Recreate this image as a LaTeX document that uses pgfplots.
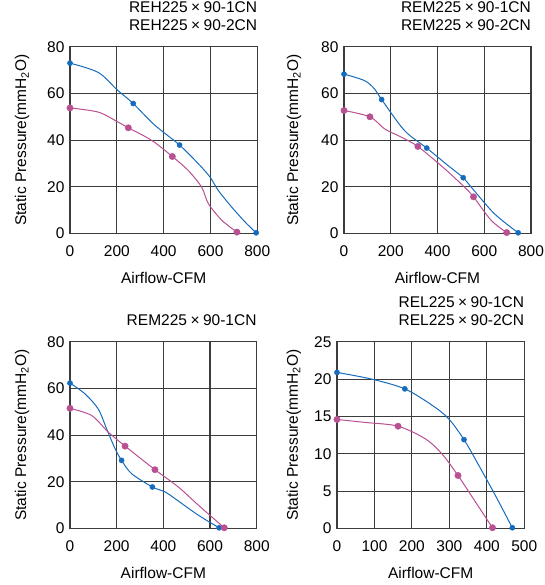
\documentclass[border=0pt]{standalone}
\usepackage{fontspec}
\setmainfont{Liberation Sans}
\usepackage{pgfplots}
\pgfplotsset{compat=1.18}
\definecolor{cblue}{RGB}{22,108,188}
\definecolor{cmag}{RGB}{184,80,146}
\definecolor{cgrid}{RGB}{60,60,60}
\newcommand{\fs}{\fontsize{15.5bp}{18bp}\selectfont}
\newcommand{\X}{\hspace{3.5bp}×\hspace{3.5bp}}
\pgfplotsset{
  panel/.style={
    scale only axis, width=187bp, height=186.7bp,
    /pgf/number format/assume math mode=true,
    xmin=0, xmax=800, ymin=0, ymax=80,
    xtick={0,200,...,800}, ytick={0,20,...,80},
    grid=major, major grid style={cgrid, line width=1.05bp},
    axis line style={cgrid, line width=1.05bp},
    tick style={draw=none},
    ticklabel style={font=\fs},
    xticklabel style={yshift=-9bp},
    yticklabel style={xshift=-2bp},
    xlabel={Airflow-CFM},
    ylabel={Static Pressure(mmH\textsubscript{2}O)},
    label style={font=\fs},
    xlabel style={at={(axis description cs:0.5,-0.24)}, anchor=center},
    title style={font=\fs, at={(axis description cs:1,1)}, anchor=south east, align=right, inner sep=0pt, yshift=10bp},
    clip=false,
  },
  bline/.style={cblue, line width=1bp, smooth, no marks},
  mline/.style={cmag, line width=1bp, smooth, no marks},
  bmark/.style={only marks, mark=*, mark size=2.6bp, cblue, mark options={draw=cblue, fill=cblue}},
  mmark/.style={only marks, mark=*, mark size=3.2bp, cmag, mark options={draw=cmag, fill=cmag}},
}
\begin{document}
\begin{tikzpicture}[x=1bp,y=1bp]
\useasboundingbox (0,0) rectangle (545,585);
% Panel 1
\begin{axis}[panel, at={(70bp,351.5bp)}, anchor=south west, width=187.3bp,
  ylabel style={at={(axis description cs:-0.255,0.5)}, anchor=center},
  title={REH225\X90-1CN\\REH225\X90-2CN}]
\addplot[bline] coordinates {(0,73.0) (121,69.0) (202,61.5) (270,55.7) (360,46.6) (468,37.9) (548,29.9) (598,24.2) (633,18.5) (690,11.4) (747,5) (795,0.3)};
\addplot[mline] coordinates {(0,53.8) (121,52.0) (206,47.7) (249,45.3) (349,39.9) (437,33.0) (505,27.0) (562,19.9) (591,12.8) (648,5.7) (713,0.6)};
\addplot[bmark] coordinates {(0,73.0) (270,55.7) (468,37.9) (795,0.3)};
\addplot[mmark] coordinates {(0,53.8) (249,45.3) (437,33.0) (713,0.6)};
\end{axis}
% Panel 2
\begin{axis}[panel, at={(344bp,351.5bp)}, anchor=south west,
  ylabel style={at={(axis description cs:-0.267,0.5)}, anchor=center},
  title={REM225\X90-1CN\\REM225\X90-2CN}]
\addplot[bline] coordinates {(0,68.3) (88,65.5) (131,61.9) (161,57.4) (259,44.1) (354,36.6) (444,29.2) (510,23.9) (544,19.9) (643,8.5) (745,0.3)};
\addplot[mline] coordinates {(0,52.7) (111,50.0) (174,44.8) (245,41.3) (316,37.3) (430,27.8) (515,19.9) (554,15.7) (629,5.7) (696,0.4)};
\addplot[bmark] coordinates {(0,68.3) (161,57.4) (354,36.6) (510,23.9) (745,0.3)};
\addplot[mmark] coordinates {(0,52.7) (111,50.0) (316,37.3) (554,15.7) (696,0.4)};
\end{axis}
% Panel 3
\begin{axis}[panel, at={(70bp,56.5bp)}, anchor=south west, width=186.7bp,
  ylabel style={at={(axis description cs:-0.257,0.5)}, anchor=center},
  title={REM225\X90-1CN}]
\addplot[bline] coordinates {(0,62.3) (64,57.7) (121,51.2) (157,42.7) (193,34.2) (221,29.2) (264,23.5) (353,17.8) (407,15.7) (450,12.8) (550,5.7) (639,0.3)};
\addplot[mline] coordinates {(0,51.5) (93,48.4) (164,41.3) (236,35.3) (364,25.2) (464,17.8) (550,10.0) (661,0.3)};
\addplot[bmark] coordinates {(0,62.3) (221,29.2) (353,17.8) (639,0.3)};
\addplot[mmark] coordinates {(0,51.5) (236,35.3) (364,25.2) (661,0.3)};
\end{axis}
% Panel 4
\begin{axis}[panel, at={(337bp,56.5bp)}, anchor=south west, width=187.3bp,
  xmax=500, ymax=25, xtick={0,100,...,500}, ytick={0,5,...,25},
  ylabel style={at={(axis description cs:-0.231,0.5)}, anchor=center},
  title={REL225\X90-1CN\\REL225\X90-2CN}]
\addplot[bline] coordinates {(0,20.9) (93,20.0) (181,18.7) (254,16.5) (298,14.7) (339,11.9) (378,8.5) (423,4.4) (468,0.1)};
\addplot[mline] coordinates {(0,14.6) (76,14.2) (163,13.7) (236,12.0) (280,10.0) (323,7.1) (369,3.6) (415,0.1)};
\addplot[bmark] coordinates {(0,20.9) (181,18.7) (339,11.9) (468,0.1)};
\addplot[mmark] coordinates {(0,14.6) (163,13.7) (323,7.1) (415,0.1)};
\end{axis}
\end{tikzpicture}
\end{document}
